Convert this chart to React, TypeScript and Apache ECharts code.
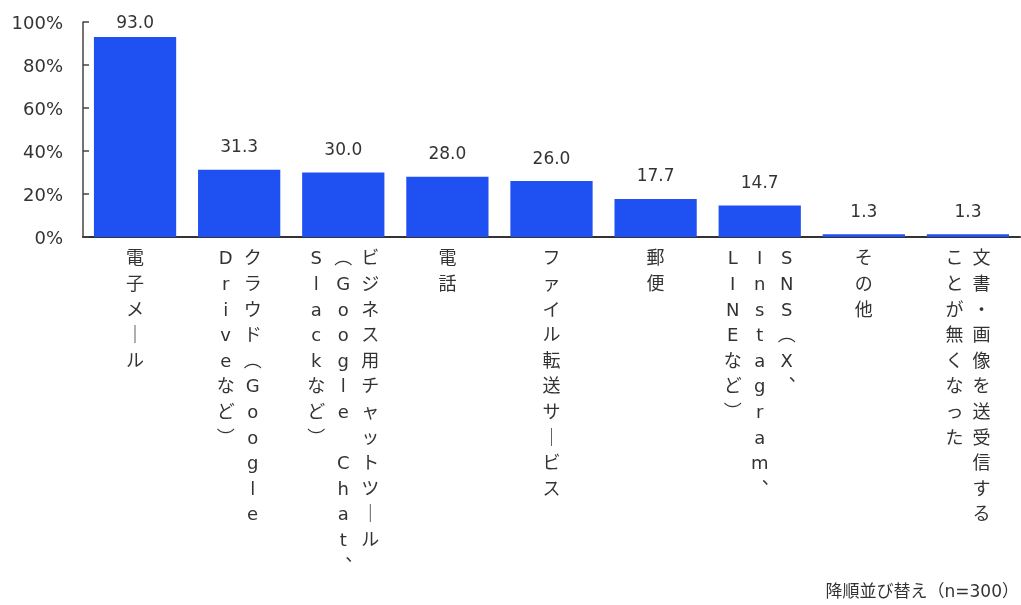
import React, { useEffect, useRef } from "react";
import * as echarts from "echarts";

// Category label columns (vertical text, read right-to-left)
const labelColumns: string[][] = [
  ["電子メール"],
  ["クラウド（Google", "Driveなど）"],
  ["ビジネス用チャットツール", "（Google Chat、", "Slackなど）"],
  ["電話"],
  ["ファイル転送サービス"],
  ["郵便"],
  ["SNS（X、", "Instagram、", "LINEなど）"],
  ["その他"],
  ["文書・画像を送受信する", "ことが無くなった"],
];
const categories = labelColumns.map((c) => c.join(""));
const values = [93.0, 31.3, 30.0, 28.0, 26.0, 17.7, 14.7, 1.3, 1.3];
const yMin = 0;
const yMax = 100;
const yInterval = 20;
const footnote = "降順並び替え（n=300）";

const FONT = "'DejaVu Sans', 'Noto Sans CJK JP', sans-serif";
const TEXT = "#333333";
const BAR = "#1F50F2";

const verticalForms: Record<string, string> = {
  "ー": "｜",
  "（": "︵",
  "）": "︶",
  "、": "︑",
};

function verticalLabel(index: number): string {
  const cols = labelColumns[index] || [];
  const chars = cols.map((c) => Array.from(c).map((ch) => verticalForms[ch] || ch));
  const rows = Math.max(...chars.map((c) => c.length));
  const lines: string[] = [];
  for (let r = 0; r < rows; r++) {
    let line = "";
    for (let k = chars.length - 1; k >= 0; k--) {
      const ch = chars[k][r];
      line += "{c|" + (ch === undefined || ch === " " ? " " : ch) + "}";
    }
    lines.push(line);
  }
  return lines.join("\n");
}

export default function App() {
  const ref = useRef<HTMLDivElement>(null);
  useEffect(() => {
    if (!ref.current) return;
    const chart = echarts.init(ref.current, undefined, { renderer: "svg" });
    chart.setOption({
      animation: false,
      textStyle: { fontFamily: FONT },
      grid: { left: 83, right: 1, top: 22, bottom: 368, containLabel: false },
      xAxis: {
        type: "category",
        data: categories,
        axisLine: { show: true, lineStyle: { color: TEXT, width: 2 } },
        axisTick: { show: false },
        splitLine: { show: false },
        axisLabel: {
          interval: 0,
          margin: 8,
          formatter: (_v: string, i: number) => verticalLabel(i),
          rich: {
            c: {
              width: 27,
              align: "center",
              fontSize: 18,
              lineHeight: 25.6,
              color: TEXT,
              fontFamily: FONT,
            },
          },
        },
      },
      yAxis: {
        type: "value",
        min: yMin,
        max: yMax,
        interval: yInterval,
        axisLine: { show: true, lineStyle: { color: "#444444", width: 1.5 } },
        axisTick: { show: true, inside: true, length: 6, lineStyle: { color: "#444444", width: 1.5 } },
        splitLine: { show: false },
        axisLabel: {
          formatter: "{value}%",
          margin: 20,
          fontSize: 18,
          color: TEXT,
          fontFamily: FONT,
        },
      },
      series: [
        {
          type: "bar",
          data: values.map((v, i) =>
            i === 0 ? { value: v, label: { distance: 7 } } : { value: v }
          ),
          barCategoryGap: "21%",
          itemStyle: { color: BAR },
          label: {
            show: true,
            position: "top",
            distance: 15,
            fontSize: 17,
            color: TEXT,
            fontFamily: FONT,
            formatter: (p: any) => Number(p.value).toFixed(1),
          },
        },
      ],
      graphic: [
        {
          type: "text",
          right: 2,
          top: 582,
          style: { text: footnote, fontSize: 17, fill: TEXT, fontFamily: FONT },
        },
      ],
    });
    return () => chart.dispose();
  }, []);
  return (
    <div
      ref={ref}
      style={{ position: "fixed", left: 0, top: 0, width: 1021, height: 605 }}
    />
  );
}
